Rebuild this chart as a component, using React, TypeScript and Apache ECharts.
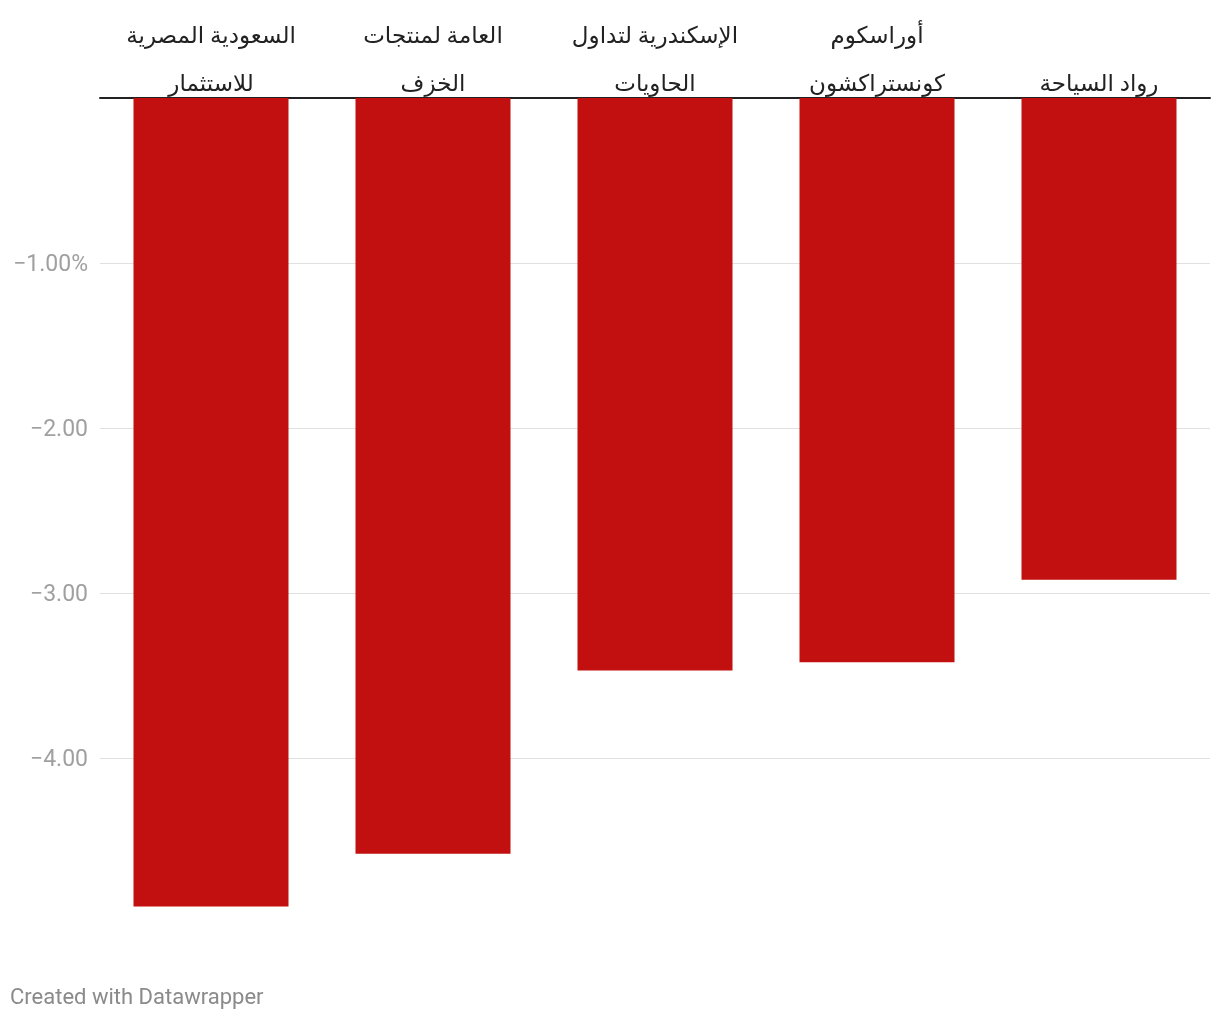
import React, { useEffect, useRef } from "react";
import * as echarts from "echarts";

const categories = [
  "السعودية المصرية\nللاستثمار",
  "العامة لمنتجات\nالخزف",
  "الإسكندرية لتداول\nالحاويات",
  "أوراسكوم\nكونستراكشون",
  "رواد السياحة",
];
const values = [-4.9, -4.58, -3.47, -3.42, -2.92];
const yTicks = [0, -1, -2, -3, -4, -5];

export default function App() {
  const ref = useRef<HTMLDivElement>(null);
  useEffect(() => {
    document.body.style.margin = "0";
    const chart = echarts.init(ref.current!, null, { renderer: "svg" });
    const font = "Roboto, 'DejaVu Sans', sans-serif";
    chart.setOption({
      animation: false,
      grid: { left: 100, right: 10, top: 98, bottom: 97, containLabel: false },
      xAxis: {
        type: "category",
        position: "top",
        data: categories,
        axisLine: { show: true, lineStyle: { color: "#222", width: 2 } },
        axisTick: { show: false },
        axisLabel: {
          color: "#222",
          fontSize: 23,
          lineHeight: 48,
          margin: -9,
          fontFamily: font,
          interval: 0,
        },
      },
      yAxis: {
        type: "value",
        min: yTicks[yTicks.length - 1],
        max: yTicks[0],
        interval: 1,
        axisLine: { show: false },
        axisTick: { show: false },
        splitLine: {
          show: true,
          showMinLine: false,
          showMaxLine: false,
          lineStyle: { color: "#e0e0e0", width: 1 },
        },
        axisLabel: {
          color: "#a0a0a0",
          fontSize: 23,
          fontFamily: font,
          margin: 12,
          formatter: (v: number) => {
            if (v === 0 || v === -5) return "";
            const s = "−" + Math.abs(v).toFixed(2);
            return v === -1 ? s + "%" : s;
          },
        },
      },
      series: [
        {
          type: "bar",
          data: values,
          barWidth: 155,
          itemStyle: { color: "#c1100f" },
        },
      ],
      graphic: [
        {
          type: "text",
          left: 10,
          top: 985,
          style: {
            text: "Created with Datawrapper",
            fill: "#8a8a8a",
            fontSize: 22,
            fontFamily: font,
          },
        },
      ],
    });
    return () => chart.dispose();
  }, []);
  return (
    <div
      ref={ref}
      style={{ position: "fixed", left: 0, top: 0, width: 1220, height: 1020 }}
    />
  );
}
